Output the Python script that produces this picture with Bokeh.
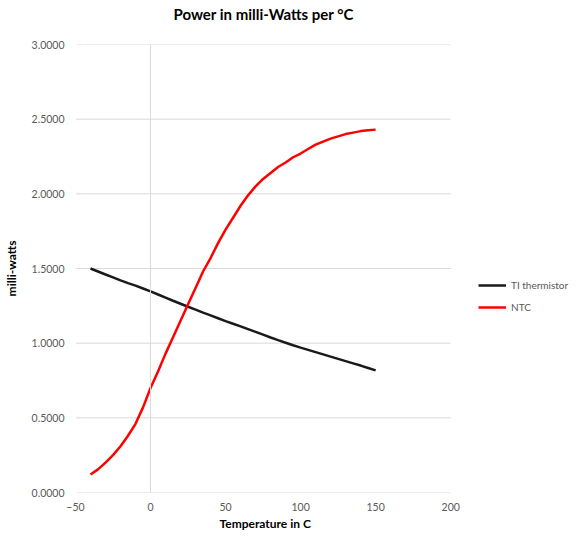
from bokeh.plotting import figure
from bokeh.models import Legend, LegendItem, Span, NumeralTickFormatter, FixedTicker, Range1d, Title
from bokeh.embed import file_html
from bokeh.resources import INLINE

temps = [-40, -35, -30, -25, -20, -15, -10, -5, 0, 5, 10, 15, 20, 25, 30, 35, 40, 45, 50, 55,
         60, 65, 70, 75, 80, 85, 90, 95, 100, 105, 110, 115, 120, 125, 130, 135, 140, 145, 150]
ti_thermistor = [1.500, 1.480, 1.460, 1.440, 1.420, 1.402, 1.385, 1.366, 1.347, 1.326, 1.305,
                 1.284, 1.264, 1.244, 1.225, 1.205, 1.186, 1.167, 1.148, 1.130, 1.112, 1.094,
                 1.076, 1.057, 1.038, 1.020, 1.003, 0.986, 0.970, 0.955, 0.940, 0.925, 0.910,
                 0.895, 0.880, 0.865, 0.850, 0.834, 0.818]
ntc = [0.12, 0.155, 0.20, 0.25, 0.31, 0.38, 0.46, 0.57, 0.70, 0.81, 0.93, 1.04, 1.15, 1.26,
       1.37, 1.48, 1.57, 1.67, 1.76, 1.84, 1.92, 1.99, 2.05, 2.10, 2.14, 2.18, 2.21, 2.245,
       2.27, 2.30, 2.33, 2.35, 2.37, 2.385, 2.40, 2.41, 2.42, 2.425, 2.43]
x_ticks = [-50, 0, 50, 100, 150, 200]
y_ticks = [0.0, 0.5, 1.0, 1.5, 2.0, 2.5, 3.0]

FONT = "Lato"
W, H = 571, 530

# frame extends to the right so the legend can sit inside it
p = figure(width=W, height=H, output_backend="svg", toolbar_location=None, title=None,
           x_range=Range1d(-50, 280.5), y_range=Range1d(0, 3.0),
           min_border_left=72, min_border_right=0, min_border_top=0, min_border_bottom=0)
# spacer between title and plot area, then the title itself
p.add_layout(Title(text=" ", text_font_size="10px", standoff=7), "above")
p.add_layout(Title(text="Power in milli-Watts per °C", align="left", offset=98, standoff=4,
                   text_font=FONT, text_font_size="15px", text_font_style="bold",
                   text_color="#000000"), "above")
p.outline_line_color = None

p.xaxis.ticker = FixedTicker(ticks=x_ticks)
p.yaxis.ticker = FixedTicker(ticks=y_ticks)
p.yaxis.formatter = NumeralTickFormatter(format="0.0000")
for ax in (p.xaxis, p.yaxis):
    ax.axis_line_color = None
    ax.major_tick_line_color = None
    ax.minor_tick_line_color = None
    ax.major_tick_out = 0
    ax.major_tick_in = 0
    ax.minor_tick_out = 0
    ax.major_label_text_font = FONT
    ax.major_label_text_font_size = "10.5px"
    ax.major_label_text_color = "#595959"
    ax.axis_label_text_font = FONT
    ax.axis_label_text_font_size = "12px"
    ax.axis_label_text_font_style = "bold"
    ax.axis_label_text_color = "#000000"
p.yaxis.axis_label = "milli-watts"
p.xaxis.major_label_standoff = 10
p.yaxis.major_label_standoff = 11
p.yaxis.axis_label_standoff = 10

# x-axis title, centred under the -50..200 span
p.add_layout(Title(text="Temperature in C", align="left", offset=144, standoff=0,
                   text_font=FONT, text_font_size="12px", text_font_style="bold",
                   text_color="#000000"), "below")

p.xgrid.grid_line_color = None
p.ygrid.grid_line_color = None
p.segment(x0=[x_ticks[0]] * len(y_ticks), x1=[x_ticks[-1]] * len(y_ticks), y0=y_ticks, y1=y_ticks,
          line_color="#d9d9d9", line_width=1)
p.add_layout(Span(location=0, dimension="height", line_color="#d9d9d9", line_width=1))

r1 = p.line(temps, ti_thermistor, line_color="#1a1a1a", line_width=2.5)
r2 = p.line(temps, ntc, line_color="#ff0000", line_width=2.5)

legend = Legend(items=[LegendItem(label="TI thermistor", renderers=[r1]),
                       LegendItem(label="NTC", renderers=[r2])],
                location=(403, 178))
legend.background_fill_alpha = 0
legend.border_line_color = None
legend.label_text_font = FONT
legend.label_text_font_size = "10px"
legend.label_text_color = "#595959"
legend.glyph_width = 28
legend.glyph_height = 14
legend.label_standoff = 5
legend.spacing = 8
legend.padding = 4
legend.margin = 0
p.add_layout(legend, "center")

open("out.html", "w").write(file_html(p, INLINE))
